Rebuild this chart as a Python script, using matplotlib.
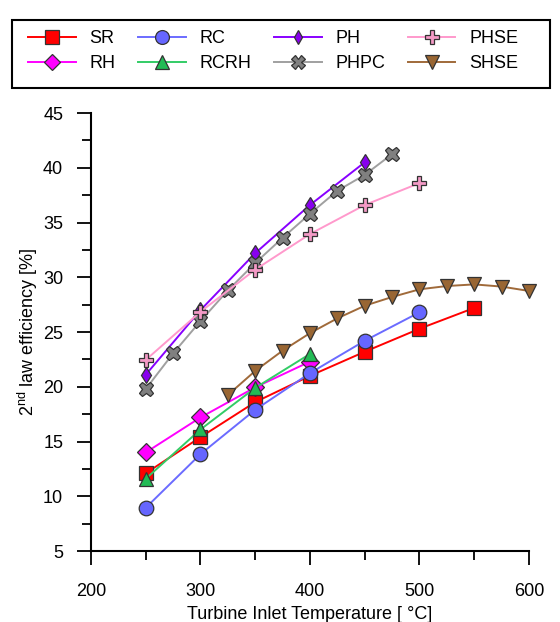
import matplotlib
matplotlib.use("Agg")
import matplotlib.pyplot as plt
from matplotlib.patches import Rectangle
from matplotlib.ticker import MultipleLocator

plt.rcParams['font.family'] = ['Liberation Sans', 'DejaVu Sans']

# turbine inlet temperature [C] and 2nd law efficiency [%] per cycle
t_sr = [250, 300, 350, 400, 450, 500, 550]
sr = [12.1, 15.4, 18.6, 21.0, 23.2, 25.3, 27.2]

t_rc = [250, 300, 350, 400, 450, 500]
rc = [8.95, 13.85, 17.9, 21.25, 24.2, 26.8]

t_rh = [250, 300, 350, 400]
rh = [14.0, 17.2, 19.95, 22.3]

t_rcrh = [250, 300, 350, 400]
rcrh = [11.6, 16.1, 19.9, 23.0]

t_ph = [250, 300, 350, 400, 450]
ph = [21.1, 27.0, 32.2, 36.6, 40.5]

t_phpc = [250, 275, 300, 325, 350, 375, 400, 425, 450, 475]
phpc = [19.8, 23.05, 26.0, 28.8, 31.3, 33.6, 35.8, 37.9, 39.35, 41.25]

t_phse = [250, 300, 350, 400, 450, 500]
phse = [22.45, 26.85, 30.7, 33.95, 36.6, 38.6]

t_shse = [325, 350, 375, 400, 425, 450, 475, 500, 525, 550, 575, 600]
shse = [19.25, 21.45, 23.3, 24.9, 26.25, 27.4, 28.2, 28.9, 29.2, 29.35, 29.15, 28.75]

fig = plt.figure(figsize=(5.6, 6.22), dpi=100)
ax = fig.add_axes([0.1625, 0.1141, 0.7821, 0.7042])

series = [
    # label, x, y, marker, size, line colour, face colour
    ("SR", t_sr, sr, "s", 10, "#ff0000", "#ff0000"),
    ("RH", t_rh, rh, "D", 9, "#ff00ff", "#ff00ff"),
    ("RC", t_rc, rc, "o", 10.5, "#6b6bff", "#6666ff"),
    ("RCRH", t_rcrh, rcrh, "^", 10, "#33cc66", "#22bb55"),
    ("PH", t_ph, ph, "d", 8, "#8800ff", "#8800ee"),
    ("PHPC", t_phpc, phpc, "X", 10.5, "#a0a0a0", "#808080"),
    ("PHSE", t_phse, phse, "P", 10.5, "#ff99cc", "#f49ac6"),
    ("SHSE", t_shse, shse, "v", 10, "#a06a3a", "#996633"),
]

handles = {}
for label, x, y, m, ms, lc, fc in series:
    h, = ax.plot(x, y, color=lc, lw=1.4, marker=m, ms=ms, mfc=fc,
                 mec="#333333", mew=0.9, clip_on=False, label=label)
    handles[label] = h

ax.set_xlim(200, 600)
ax.set_ylim(5, 45)
ax.xaxis.set_major_locator(MultipleLocator(100))
ax.xaxis.set_minor_locator(MultipleLocator(50))
ax.yaxis.set_major_locator(MultipleLocator(5))
ax.yaxis.set_minor_locator(MultipleLocator(2.5))
ax.spines['top'].set_visible(False)
ax.spines['right'].set_visible(False)
for s in ('left', 'bottom'):
    ax.spines[s].set_linewidth(1.5)
ax.tick_params(which='both', direction='out', width=1.3, labelsize=13)
ax.tick_params(which='major', length=10)
ax.tick_params(which='minor', length=6.5)
ax.tick_params(axis='x', which='major', pad=13)
ax.tick_params(axis='y', which='major', pad=10)

ax.set_xlabel("Turbine Inlet Temperature [ °C]", fontsize=13, labelpad=4)
ax.set_ylabel("2$^{\\mathregular{nd}}$ law efficiency [%]", fontsize=13, labelpad=2)

order = ["SR", "RH", "RC", "RCRH", "PH", "PHPC", "PHSE", "SHSE"]
fig.legend([handles[k] for k in order], order, ncol=4,
           loc="upper left", bbox_to_anchor=(28 / 560, 1 - 30 / 622),
           fontsize=13, frameon=False, markerscale=0.95, handlelength=2.65,
           handletextpad=0.75, columnspacing=1.25, borderpad=0,
           borderaxespad=0, labelspacing=0.45)
fig.patches.append(Rectangle((12 / 560, 1 - 88 / 622), 538 / 560, 68 / 622,
                             transform=fig.transFigure, fill=False,
                             edgecolor="black", lw=1.5))

fig.savefig("out.png", dpi=100)
